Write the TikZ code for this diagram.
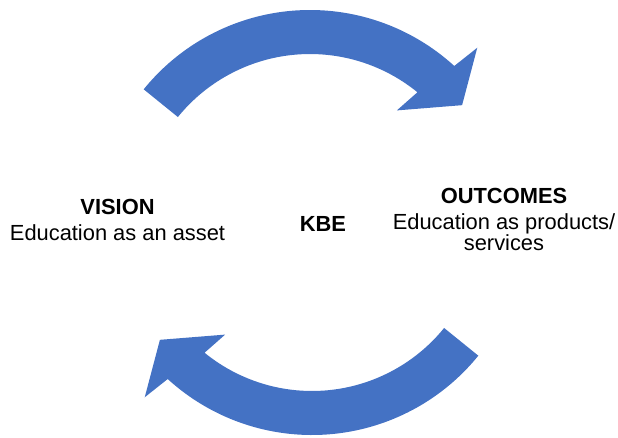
\documentclass[tikz,border=0pt]{standalone}
\usepackage{fontspec}
\setmainfont{Liberation Sans}
\definecolor{kbeblue}{RGB}{68,114,196}

\begin{document}
\begin{tikzpicture}[x=0.75pt,y=0.75pt,
   every node/.style={inner sep=0pt,align=center,anchor=base,
      font=\fontsize{16.4pt}{15.75pt}\selectfont},
   bendarrow/.pic={\fill[kbeblue] (141:214) arc[start angle=141,end angle=47.6,radius=214]
      -- (46.5:243) -- (38:193) -- (52.6:143) -- (50.8:170)
      arc[start angle=50.8,end angle=141,radius=170] -- cycle;}]
\useasboundingbox (0,0) rectangle (618,437);
\pic (toparrow) at (310,213) {bendarrow};
\pic[rotate=180] (bottomarrow) at (312,216) {bendarrow};
\node (vision) at (117.5,197) {\textbf{VISION}\\[3.75pt]Education as an asset};
\node (kbe) at (323,206) {\textbf{KBE}};
\node (outcomes) at (504,187) {\textbf{OUTCOMES}\\[3.75pt]Education as products/\\services};
\end{tikzpicture}
\end{document}
